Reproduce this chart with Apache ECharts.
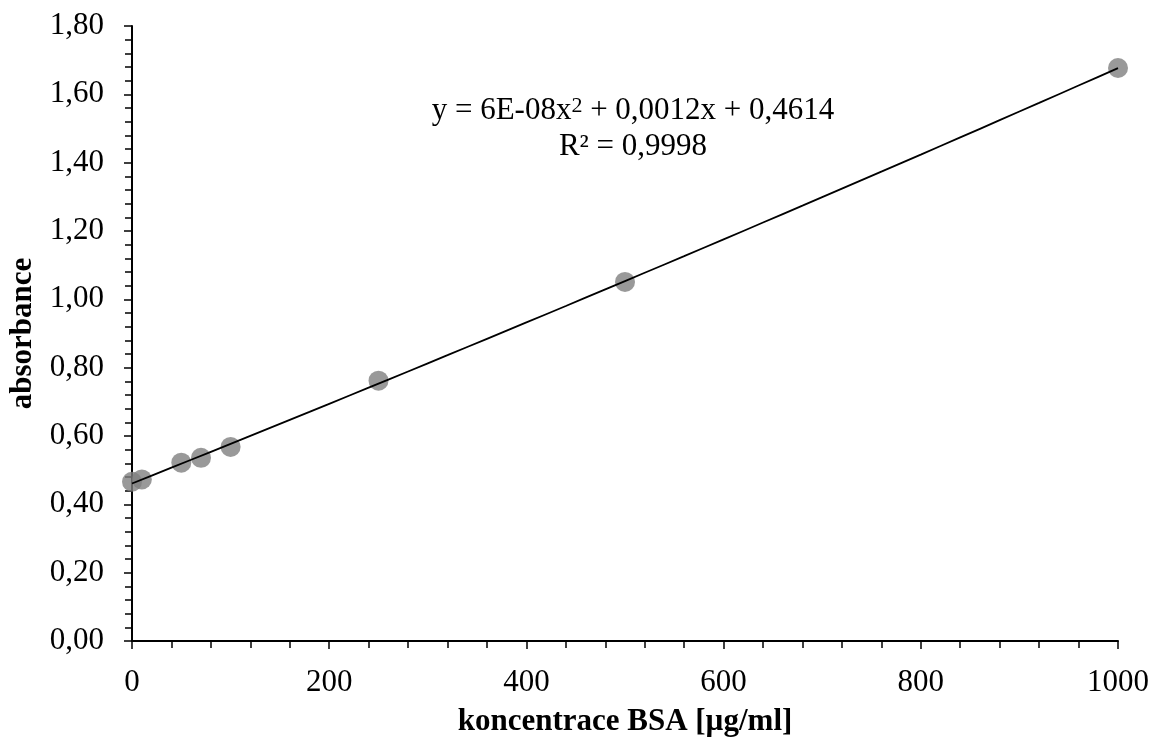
<!DOCTYPE html>
<html>
<head>
<meta charset="utf-8">
<script src="https://cdn.jsdelivr.net/npm/echarts@6/dist/echarts.min.js"></script>
<style>
html,body{margin:0;padding:0;background:#fff;}
#chart{width:1155px;height:742px;}
</style>
</head>
<body>
<div id="chart"></div>
<script>
// Data
var concentrations = [0, 10, 50, 70, 100, 250, 500, 1000];
var absorbances = [0.466, 0.473, 0.522, 0.536, 0.568, 0.762, 1.051, 1.677];
var xTicks = [0, 200, 400, 600, 800, 1000];
var yTicks = [0, 0.2, 0.4, 0.6, 0.8, 1.0, 1.2, 1.4, 1.6, 1.8];
var equationLine1 = ['y = 6E-08x', '2', ' + 0,0012x + 0,4614'];
var equationLine2 = 'R\u00B2 = 0,9998';
var xTitle = 'koncentrace BSA [\u00B5g/ml]';
var yTitle = 'absorbance';

// Quadratic least-squares trendline fitted from the data (as the spreadsheet does)
function polyFit2(xs, ys) {
  var n = xs.length, S = [0,0,0,0,0], T = [0,0,0];
  for (var i = 0; i < n; i++) {
    var p = 1;
    for (var k = 0; k < 5; k++) { S[k] += p; if (k < 3) T[k] += p * ys[i]; p *= xs[i]; }
  }
  var M = [[S[0],S[1],S[2],T[0]],[S[1],S[2],S[3],T[1]],[S[2],S[3],S[4],T[2]]];
  for (var c = 0; c < 3; c++) {
    var piv = c;
    for (var r = c+1; r < 3; r++) if (Math.abs(M[r][c]) > Math.abs(M[piv][c])) piv = r;
    var tmp = M[c]; M[c] = M[piv]; M[piv] = tmp;
    for (var r2 = 0; r2 < 3; r2++) {
      if (r2 === c) continue;
      var f = M[r2][c] / M[c][c];
      for (var k2 = c; k2 < 4; k2++) M[r2][k2] -= f * M[c][k2];
    }
  }
  return [M[0][3]/M[0][0], M[1][3]/M[1][1], M[2][3]/M[2][2]];
}
var coef = polyFit2(concentrations, absorbances);
var xMin = concentrations[0], xMax = concentrations[concentrations.length-1];
var trend = [];
for (var t = 0; t <= 50; t++) {
  var xv = xMin + (xMax - xMin) * t / 50;
  trend.push([xv, coef[0] + coef[1]*xv + coef[2]*xv*xv]);
}

var points = concentrations.map(function(x, i){ return [x, absorbances[i]]; });
var FONT = "'Liberation Serif','Times New Roman',serif";

var chart = echarts.init(document.getElementById('chart'), null, {renderer:'canvas'});
chart.setOption({
  backgroundColor: '#ffffff',
  animation: false,
  grid: {left: 132, right: 37, top: 26, bottom: 101, containLabel: false, outerBoundsMode: 'none'},
  xAxis: {
    type: 'value',
    min: xTicks[0], max: xTicks[xTicks.length-1], interval: xTicks[1]-xTicks[0],
    name: xTitle, nameLocation: 'middle', nameGap: 65,
    nameTextStyle: {fontFamily: FONT, fontSize: 31, fontWeight: 'bold', color: '#000'},
    axisLine: {show: true, onZero: false, lineStyle: {color: '#000', width: 2}},
    axisTick: {show: true, inside: false, length: 8, lineStyle: {color: '#000', width: 1.5}},
    minorTick: {show: true, splitNumber: 5, length: 7, lineStyle: {color: '#000', width: 1.5}},
    splitLine: {show: false},
    axisLabel: {fontFamily: FONT, fontSize: 31, color: '#000', margin: 26,
      formatter: function(v){ return String(v); }}
  },
  yAxis: {
    type: 'value',
    min: yTicks[0], max: yTicks[yTicks.length-1], interval: 0.2,
    name: yTitle, nameLocation: 'middle', nameGap: 93,
    nameTextStyle: {fontFamily: FONT, fontSize: 31, fontWeight: 'bold', color: '#000'},
    axisLine: {show: true, onZero: false, lineStyle: {color: '#000', width: 2}},
    axisTick: {show: true, inside: false, length: 8, lineStyle: {color: '#000', width: 1.5}},
    minorTick: {show: true, splitNumber: 5, length: 7, lineStyle: {color: '#000', width: 1.5}},
    splitLine: {show: false},
    axisLabel: {fontFamily: FONT, fontSize: 31, color: '#000', margin: 28,
      formatter: function(v){ return v.toFixed(2).replace('.', ','); }}
  },
  series: [
    {
      type: 'scatter', data: points, symbol: 'circle', symbolSize: 20,
      itemStyle: {color: '#808080'}, z: 2
    },
    {
      type: 'line', data: trend, showSymbol: false, symbol: 'none', smooth: false,
      lineStyle: {color: '#000', width: 1.8}, z: 3
    }
  ],
  graphic: [
    {type: 'text', x: 633, y: 111, z: 10,
     style: {text: equationLine1[0] + '{sup|' + equationLine1[1] + '}' + equationLine1[2],
       fontFamily: FONT, fontSize: 31, fill: '#000', align: 'center', verticalAlign: 'middle',
       rich: {sup: {fontFamily: FONT, fontSize: 22, fill: '#000', verticalAlign: 'top', lineHeight: 30}}}},
    {type: 'text', x: 633, y: 147, z: 10,
     style: {text: equationLine2, fontFamily: FONT, fontSize: 31, fill: '#000',
       align: 'center', verticalAlign: 'middle'}}
  ]
});
</script>
</body>
</html>
